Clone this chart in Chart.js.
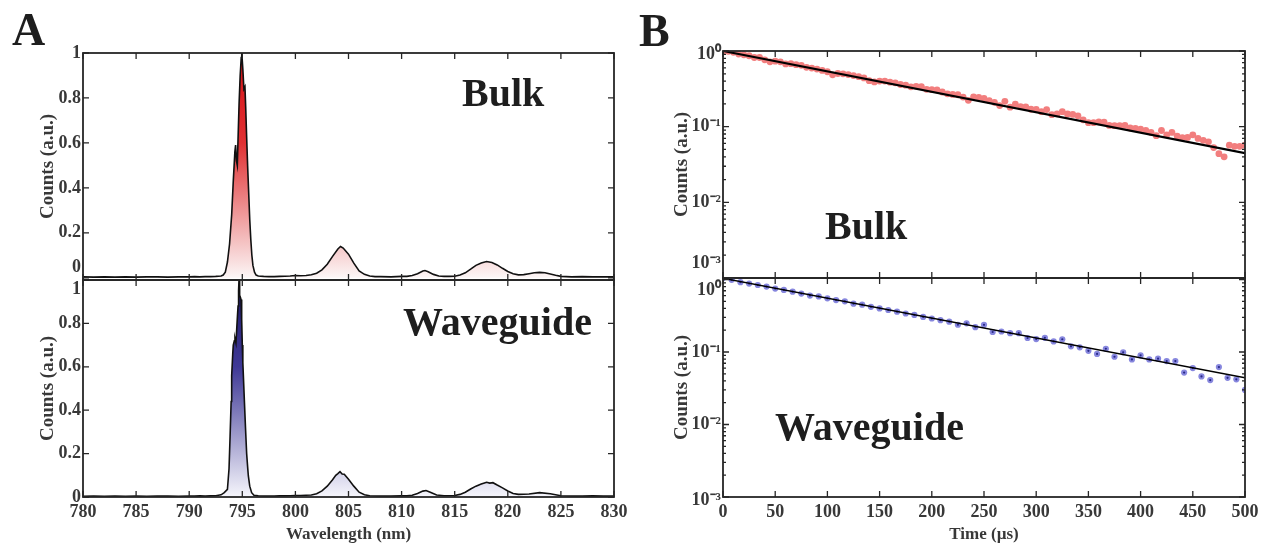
<!DOCTYPE html>
<html><head><meta charset="utf-8">
<script src="https://cdn.jsdelivr.net/npm/chart.js@4.4.1/dist/chart.umd.min.js"></script>
<style>
html,body{margin:0;padding:0;background:#fff;}
#wrap{position:relative;width:1272px;height:546px;overflow:hidden;background:#fff;}
#wrap canvas{position:absolute;left:0;top:0;}
.lbl{position:absolute;font-family:"Liberation Serif","Times New Roman",serif;font-weight:bold;color:#1e1e1e;white-space:nowrap;line-height:1;}
</style></head><body>
<div id="wrap">
<canvas id="cA1" width="1272" height="546"></canvas>
<canvas id="cA2" width="1272" height="546"></canvas>
<canvas id="cB1" width="1272" height="546"></canvas>
<canvas id="cB2" width="1272" height="546"></canvas>
<div class="lbl" style="left:12px;top:7px;font-size:46px;">A</div>
<div class="lbl" style="left:639px;top:8px;font-size:46px;">B</div>
<div class="lbl" style="left:462px;top:73px;font-size:40px;">Bulk</div>
<div class="lbl" style="left:403px;top:302px;font-size:40px;">Waveguide</div>
<div class="lbl" style="left:825px;top:206px;font-size:40px;">Bulk</div>
<div class="lbl" style="left:775px;top:407px;font-size:40px;">Waveguide</div>
</div>
<script>
// ---------- DATA ----------
const xTicksA = [780,785,790,795,800,805,810,815,820,825,830];
const xTickLabelsA = ['780','785','790','795','800','805','810','815','820','825','830'];
const yTicksA = [0,0.2,0.4,0.6,0.8,1];
const yTickLabelsA = ['0','0.2','0.4','0.6','0.8','1'];
const xTicksB = [0,50,100,150,200,250,300,350,400,450,500];
const xTickLabelsB = ['0','50','100','150','200','250','300','350','400','450','500'];
const yTicksB = [0.001,0.01,0.1,1];
const yTickLabelsB = ['10\u207B\u00B3','10\u207B\u00B2','10\u207B\u00B9','10\u2070'];

// Panel A – Bulk spectrum
const wlBulk = [
780,781,782,783,784,785,786,787,788,789,
790,790.5,791,791.5,792,792.5,793,793.2,793.4,793.6,
793.8,794.0,794.15,794.3,794.37,794.45,794.53,794.6,794.7,794.8,
794.9,794.95,795.05,795.15,795.25,795.32,795.4,795.5,795.6,795.7,
795.8,795.9,796.0,796.15,796.3,796.5,797,797.5,798,798.5,
799,799.5,800,800.5,801,801.5,802,802.5,803,803.5,
804,804.25,804.5,805,805.5,806,806.5,807,807.5,808,
809,810,810.5,811,811.5,812,812.2,812.5,813,813.5,
814,814.5,815,815.5,816,816.5,817,817.5,818,818.5,
819,819.5,820,820.5,821,821.5,822,822.5,823,823.5,
824,824.5,825,826,827,828,829,830];
const countsBulk = [
.004,.003,.004,.003,.004,.003,.004,.004,.003,.004,
.004,.005,.004,.005,.005,.006,.008,.012,.025,.07,
.15,.28,.43,.56,.59,.52,.50,.62,.78,.90,
.98,1.0,.93,.84,.85,.76,.64,.50,.38,.26,
.17,.10,.055,.025,.012,.008,.006,.005,.005,.006,
.007,.008,.010,.009,.010,.013,.02,.035,.06,.095,
.128,.139,.132,.105,.065,.03,.015,.008,.005,.005,
.004,.006,.006,.01,.018,.03,.032,.027,.015,.008,
.006,.006,.007,.012,.022,.038,.055,.066,.072,.068,
.057,.042,.028,.018,.013,.014,.018,.022,.024,.022,
.017,.011,.006,.004,.005,.004,.004,.004];

// Panel A – Waveguide spectrum
const wlWg = [
780,781,782,783,784,785,786,787,788,789,
790,790.5,791,791.5,792,792.5,793,793.3,793.6,793.75,
793.85,793.95,794.0,794.1,794.15,794.25,794.31,794.4,794.47,794.55,
794.6,794.65,794.69,794.75,794.82,794.88,794.94,795.0,795.05,795.1,
795.19,795.3,795.41,795.5,795.57,795.7,795.88,796.1,796.5,797,
797.5,798,798.5,799,799.5,800,800.5,801,801.5,802,
802.5,803,803.5,803.8,804,804.2,804.4,804.6,805,805.5,
806,806.5,807,808,809,810,810.5,811,811.5,812,
812.3,812.7,813.3,814,815,815.5,816,816.5,817,817.5,
817.8,818,818.3,818.6,819,819.5,820,820.5,821,822,
823,824,825,826,827,828,829,830];
const countsWg = [
.003,.004,.003,.004,.003,.004,.003,.004,.004,.003,
.004,.004,.005,.004,.005,.006,.01,.02,.035,.13,
.28,.44,.56,.66,.70,.72,.73,.71,.77,.84,
.88,.95,1.0,.93,.92,.91,.82,.70,.62,.56,
.45,.32,.20,.14,.097,.05,.02,.008,.005,.004,
.004,.004,.005,.005,.006,.007,.007,.008,.009,.015,
.028,.05,.08,.10,.108,.117,.106,.105,.082,.05,
.022,.01,.006,.004,.004,.005,.005,.008,.016,.027,
.03,.022,.009,.006,.007,.012,.022,.037,.05,.06,
.065,.068,.064,.066,.055,.042,.028,.016,.012,.014,
.02,.015,.006,.004,.004,.005,.004,.004];

// Panel B – Bulk decay (time in µs)
const tBulk = [
0,5,10,15,20,25,30,35,40,45,50,55,60,65,70,75,80,85,90,95,
100,105,110,115,120,125,130,135,140,145,150,155,160,165,170,175,180,185,190,195,
200,205,210,215,220,225,230,235,240,245,250,255,260,265,270,275,280,285,290,295,
300,305,310,315,320,325,330,335,340,345,350,355,360,365,370,375,380,385,390,395,
400,405,410,415,420,425,430,435,440,445,450,455,460,465,470,475,480,485,490,495,500];
const decayBulk = [
1.00,.99,.96,.91,.89,.865,.82,.82,.765,.72,.733,.72,.675,.68,.66,.646,.608,.595,.577,.554,
.532,.484,.504,.499,.488,.473,.458,.441,.405,.39,.401,.40,.387,.38,.361,.354,.336,.341,.338,.312,
.308,.307,.287,.272,.267,.264,.246,.223,.248,.244,.236,.221,.21,.19,.216,.181,.198,.184,.182,.17,
.169,.158,.168,.144,.148,.158,.147,.145,.139,.123,.113,.113,.116,.115,.104,.103,.103,.104,.096,.095,
.093,.089,.084,.076,.089,.078,.084,.075,.0715,.072,.078,.07,.066,.063,.053,.044,.040,.057,.055,.055,.057];
const fitTimeB = [0,500];
const fitBulk = [1.0,0.0446];

// Panel B – Waveguide decay
const tWg = [
0,8.3,16.7,25,33.3,41.7,50,58.3,66.7,75,83.3,91.7,100,108.3,116.7,125,133.3,141.7,150,158.3,
166.7,175,183.3,191.7,200,208.3,216.7,225,233.3,241.7,250,258.3,266.7,275,283.3,291.7,300,308.3,316.7,325,
333.3,341.7,350,358.3,366.7,375,383.3,391.7,400,408.3,416.7,425,433.3,441.7,450,458.3,466.7,475,483.3,491.7,500];
const decayWg = [
1.05,.99,.92,.88,.84,.80,.75,.72,.68,.64,.60,.585,.55,.52,.50,.465,.45,.42,.40,.38,
.36,.34,.325,.305,.29,.275,.262,.238,.249,.22,.237,.189,.192,.182,.182,.156,.151,.157,.140,.150,
.120,.116,.104,.094,.111,.086,.099,.079,.090,.079,.081,.075,.075,.052,.060,.046,.041,.062,.044,.042,.030];
const fitWg = [1.04,0.044];

// ---------- STYLE / HELPERS ----------
const FONT = '"Liberation Serif","Times New Roman",serif';
const TXT = '#383838';

const framePlugin = {
  id: 'frame',
  afterDatasetsDraw(chart, args, opts) {
    const {ctx, chartArea: a, scales} = chart;
    const sx = scales.x, sy = scales.y;
    ctx.save();
    ctx.strokeStyle = '#262626';
    ctx.lineWidth = 1.3;
    ctx.beginPath();
    const L = 6;
    (opts.xTicks || []).forEach(v => {
      const p = sx.getPixelForValue(v);
      ctx.moveTo(p, a.top); ctx.lineTo(p, a.top + L);
      ctx.moveTo(p, a.bottom); ctx.lineTo(p, a.bottom - L);
    });
    (opts.yTicks || []).forEach(v => {
      const p = sy.getPixelForValue(v);
      if (p < a.top - 0.5 || p > a.bottom + 0.5) return;
      ctx.moveTo(a.left, p); ctx.lineTo(a.left + L, p);
      ctx.moveTo(a.right, p); ctx.lineTo(a.right - L, p);
    });
    (opts.yMinor || []).forEach(v => {
      const p = sy.getPixelForValue(v);
      if (p < a.top - 0.5 || p > a.bottom + 0.5) return;
      ctx.moveTo(a.left, p); ctx.lineTo(a.left + 3, p);
      ctx.moveTo(a.right, p); ctx.lineTo(a.right - 3, p);
    });
    ctx.stroke();
    ctx.lineWidth = 1.8;
    ctx.strokeRect(a.left, a.top, a.right - a.left, a.bottom - a.top);
    ctx.restore();
  }
};

function gradFill(stops) {
  return (context) => {
    const chart = context.chart;
    const {ctx, chartArea} = chart;
    if (!chartArea) return 'rgba(0,0,0,0)';
    const y1 = chart.scales.y.getPixelForValue(1);
    const y0 = chart.scales.y.getPixelForValue(0);
    const g = ctx.createLinearGradient(0, y1, 0, y0);
    stops.forEach(s => g.addColorStop(s[0], s[1]));
    return g;
  };
}

function tickFont(lhMap) {
  return (c) => ({family: FONT, size: 18, weight: 'bold',
    lineHeight: ((lhMap && c && lhMap[c.index] !== undefined) ? lhMap[c.index] : 20) + 'px'});
}
function labelCb(labels, shift) {
  return (v, i) => {
    const s = labels[i];
    if (shift && shift[i] === 'up') return [s, ''];
    if (shift && shift[i] === 'down') return ['', s];
    return s;
  };
}
function setTicks(arr) { return (s) => { s.ticks = arr.map(v => ({value: v})); }; }

const minorB = [];
for (let d = -3; d < 0; d++) for (let m = 2; m <= 9; m++) minorB.push(m * Math.pow(10, d));

function makeChart(id, cfg) {
  const showX = cfg.showX;
  return new Chart(document.getElementById(id), {
    type: 'line',
    data: {datasets: cfg.datasets},
    plugins: [framePlugin],
    options: {
      responsive: false, animation: false, events: [],
      layout: {padding: {left: cfg.L - 60, top: cfg.T, right: 1272 - cfg.R, bottom: 546 - cfg.B - (showX ? 48 : 0)}},
      plugins: {legend: {display: false}, tooltip: {enabled: false},
        frame: {xTicks: cfg.xTicks, yTicks: cfg.yTicks, yMinor: cfg.yMinor || []}},
      scales: {
        x: {
          type: 'linear', min: cfg.xMin, max: cfg.xMax,
          grid: {display: false, drawTicks: false}, border: {display: false},
          afterBuildTicks: setTicks(cfg.xTicks),
          afterFit: (s) => { s.height = showX ? 48 : 0; },
          ticks: {display: showX, autoSkip: false, maxRotation: 0, padding: 5, color: TXT,
            font: {family: FONT, size: 18, weight: 'bold'},
            callback: (v, i) => cfg.xLabels[i]},
          title: {display: showX, text: cfg.xTitle || '', color: TXT,
            font: {family: FONT, size: 17, weight: 'bold'}, padding: {top: 0, bottom: 0}}
        },
        y: {
          type: cfg.yType, min: cfg.yMin, max: cfg.yMax,
          grid: {display: false, drawTicks: false}, border: {display: false},
          afterBuildTicks: setTicks(cfg.yTicks),
          afterFit: (s) => { s.width = 60; },
          ticks: {autoSkip: false, padding: 2, color: TXT,
            font: tickFont(cfg.lh), callback: labelCb(cfg.yLabels, cfg.shift)},
          title: {display: true, text: 'Counts (a.u.)', color: TXT,
            font: {family: FONT, size: 19, weight: 'bold'}, padding: {top: cfg.titlePad, bottom: 0}}
        }
      }
    }
  });
}

const redStops = [[0, 'rgb(212,18,22)'], [0.4, 'rgb(224,48,50)'], [1, 'rgb(252,246,246)']];
const blueStops = [[0, 'rgb(30,24,100)'], [0.4, 'rgb(62,56,150)'], [1, 'rgb(246,246,252)']];

function spectrumSet(wl, counts, stops) {
  return {
    data: wl.map((x, i) => ({x, y: counts[i]})),
    borderColor: '#111', borderWidth: 1.6, pointRadius: 0, tension: 0,
    fill: 'origin', backgroundColor: gradFill(stops)
  };
}

makeChart('cA1', {
  L: 83, T: 53, R: 614, B: 280, showX: false,
  xMin: 780, xMax: 830, xTicks: xTicksA, xLabels: xTickLabelsA,
  yType: 'linear', yMin: -0.01, yMax: 1, yTicks: yTicksA, yLabels: yTickLabelsA,
  shift: {0: 'up'}, lh: {0: 20}, titlePad: 14,
  datasets: [spectrumSet(wlBulk, countsBulk, redStops)]
});
makeChart('cA2', {
  L: 83, T: 280, R: 614, B: 497, showX: true, xTitle: 'Wavelength (nm)',
  xMin: 780, xMax: 830, xTicks: xTicksA, xLabels: xTickLabelsA,
  yType: 'linear', yMin: 0, yMax: 1, yTicks: yTicksA, yLabels: yTickLabelsA,
  shift: {5: 'down'}, lh: {5: 18}, titlePad: 14,
  datasets: [spectrumSet(wlWg, countsWg, blueStops)]
});
makeChart('cB1', {
  L: 723, T: 51, R: 1245, B: 278, showX: false,
  xMin: 0, xMax: 500, xTicks: xTicksB, xLabels: xTickLabelsB,
  yType: 'logarithmic', yMin: 0.001, yMax: 1, yTicks: yTicksB, yLabels: yTickLabelsB, yMinor: minorB,
  shift: {0: 'up', 3: 'down'}, lh: {0: 30, 3: 6}, titlePad: 8,
  datasets: [
    {data: fitTimeB.map((x, i) => ({x, y: fitBulk[i]})), borderColor: '#000', borderWidth: 2.2, pointRadius: 0, fill: false},
    {data: tBulk.map((x, i) => ({x, y: decayBulk[i]})), showLine: false, pointRadius: 3.4, pointBorderWidth: 0,
     pointBackgroundColor: 'rgb(242,126,126)', backgroundColor: 'rgb(242,126,126)'}
  ]
});
makeChart('cB2', {
  L: 723, T: 278, R: 1245, B: 497, showX: true, xTitle: 'Time (\u00B5s)',
  xMin: 0, xMax: 500, xTicks: xTicksB, xLabels: xTickLabelsB,
  yType: 'logarithmic', yMin: 0.001, yMax: 1.05, yTicks: yTicksB, yLabels: yTickLabelsB, yMinor: minorB,
  shift: {0: 'down', 3: 'down'}, lh: {0: 6, 3: 21}, titlePad: 8,
  datasets: [
    {data: fitTimeB.map((x, i) => ({x, y: fitWg[i]})), borderColor: '#000', borderWidth: 1.5, pointRadius: 0, fill: false},
    {data: tWg.map((x, i) => ({x, y: decayWg[i]})), showLine: false, pointRadius: 1.1, pointBorderWidth: 0,
     pointBackgroundColor: 'rgb(40,40,135)', backgroundColor: 'rgb(40,40,135)'},
    {data: tWg.map((x, i) => ({x, y: decayWg[i]})), showLine: false, pointRadius: 3.1, pointBorderWidth: 0,
     pointBackgroundColor: 'rgb(135,135,222)', backgroundColor: 'rgb(135,135,222)'}
  ]
});
</script>
</body></html>
